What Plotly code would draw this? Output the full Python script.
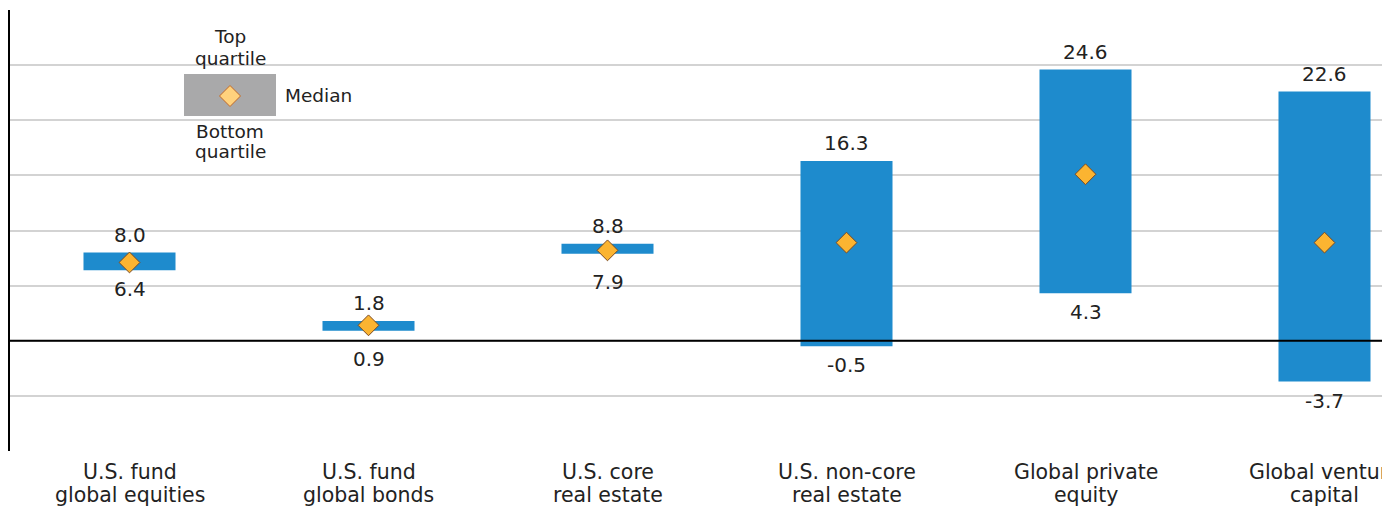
import plotly.graph_objects as go

categories = ["U.S. fund<br>global equities", "U.S. fund<br>global bonds", "U.S. core<br>real estate",
              "U.S. non-core<br>real estate", "Global private<br>equity", "Global venture<br>capital"]
top_quartile = [8.0, 1.8, 8.8, 16.3, 24.6, 22.6]
bottom_quartile = [6.4, 0.9, 7.9, -0.5, 4.3, -3.7]
median = [7.1, 1.4, 8.2, 8.9, 15.1, 8.9]

W, H = 1382, 508
ML, MR, MT, MB = 10, 0, 10, 57
plot_w = W - ML - MR
plot_h = H - MT - MB
band = 239.0
xs = list(range(len(categories)))

FONT = "DejaVu Sans"
TXT = "#222222"
BLUE = "#1e8bcd"


def px(x):
    return (x - ML) / plot_w


def py(y):
    return (H - MB - y) / plot_h


fig = go.Figure()
fig.add_trace(go.Bar(
    x=xs, y=[t - b for t, b in zip(top_quartile, bottom_quartile)], base=bottom_quartile,
    width=0.385, marker=dict(color=BLUE, line=dict(width=0)), hoverinfo="skip",
))
fig.add_trace(go.Scatter(
    x=xs, y=median, mode="markers",
    marker=dict(symbol="diamond", size=16, color="#fbb431", line=dict(color="#7a4a22", width=1)),
    hoverinfo="skip",
))

vf = dict(family=FONT, size=20, color=TXT)
annotations = []
for i, (t, b) in enumerate(zip(top_quartile, bottom_quartile)):
    narrow = (t - b) < 1.2
    annotations.append(dict(x=i, y=t, text=f"{t:.1f}", showarrow=False, yanchor="middle",
                            yshift=18, font=vf))
    annotations.append(dict(x=i, y=b, text=f"{b:.1f}", showarrow=False, yanchor="middle",
                            yshift=-28 if narrow else -19, font=vf))

# category labels (two lines each, tight leading)
cf = dict(family=FONT, size=20.5, color=TXT)
for i, lab in enumerate(categories):
    for j, line in enumerate(lab.split("<br>")):
        annotations.append(dict(x=i, xref="x", yref="paper", y=py(472 + 23 * j), text=line,
                                showarrow=False, xanchor="center", yanchor="middle", font=cf))

# legend inset
lf = dict(family=FONT, size=18.5, color=TXT)
for text, cy in [("Top", 36.5), ("quartile", 58), ("Bottom", 131), ("quartile", 151.5)]:
    annotations.append(dict(xref="paper", yref="paper", x=px(230), y=py(cy), text=text,
                            showarrow=False, font=lf, xanchor="center", yanchor="middle"))
annotations.append(dict(xref="paper", yref="paper", x=px(283), y=py(95), text="Median",
                        showarrow=False, font=lf, xanchor="left", yanchor="middle"))

shapes = [
    dict(type="rect", xref="paper", yref="paper", x0=px(173), x1=px(357), y0=py(165), y1=py(20),
         fillcolor="white", line=dict(width=0), layer="between"),
    dict(type="rect", xref="paper", yref="paper", x0=px(184), x1=px(276), y0=py(116), y1=py(74),
         fillcolor="#a9a9aa", line=dict(width=0), layer="above"),
    dict(type="path", xref="paper", yref="paper", xsizemode="pixel", ysizemode="pixel",
         xanchor=px(230), yanchor=py(96), path="M -10.5 0 L 0 10.5 L 10.5 0 L 0 -10.5 Z",
         fillcolor="#ffd27d", line=dict(color="#c0692a", width=1), layer="above"),
    dict(type="line", xref="paper", yref="y", x0=0, x1=1, y0=0, y1=0,
         line=dict(color="black", width=2), layer="above"),
]

fig.update_layout(
    width=W, height=H, margin=dict(l=ML, r=MR, t=MT, b=MB),
    paper_bgcolor="white", plot_bgcolor="white", showlegend=False,
    annotations=annotations, shapes=shapes,
    font=dict(family=FONT, color=TXT),
    xaxis=dict(range=[-0.5, -0.5 + plot_w / band], tickvals=xs, showticklabels=False,
               showgrid=False, zeroline=False, showline=False, ticks="", fixedrange=True),
    yaxis=dict(range=[-10, 30], dtick=5, showticklabels=False, showgrid=True,
               gridcolor="#d3d3d3", gridwidth=1.5, zeroline=False, showline=True,
               linecolor="black", linewidth=2, ticks="", fixedrange=True),
)

fig.write_html("out.html")
